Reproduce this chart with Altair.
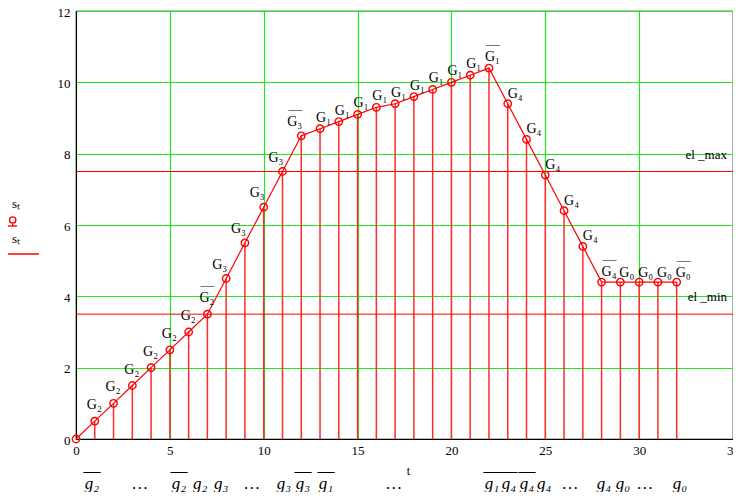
import altair as alt
import pandas as pd

# ---- data ----
t_vals = list(range(33))
s_vals = [0, 0.5, 1.0, 1.5, 2.0, 2.5, 3.0, 3.5,
          4.5, 5.5, 6.5, 7.5, 8.5,
          8.7, 8.9, 9.1, 9.3, 9.4, 9.6, 9.8, 10.0, 10.2, 10.4,
          9.4, 8.4, 7.4, 6.4, 5.4, 4.4,
          4.4, 4.4, 4.4, 4.4]
point_groups = ([""] + ["G2"] * 7 + ["G3"] * 5 + ["G1"] * 10 +
                ["G4"] * 6 + ["G0"] * 4)
point_labels = ([""] + ["G₂"] * 7 + ["G₃"] * 5 + ["G₁"] * 10 +
                ["G₄"] * 6 + ["G₀"] * 4)
overlined_t = [7, 12, 22, 28, 32]

el_values = [7.5, 3.5]
el_names = ["el _max", "el _min"]

x_ticks = [0, 5, 10, 15, 20, 25, 30, 35]
y_ticks = [0, 2, 4, 6, 8, 10, 12]

bottom_tokens = ["g₂", "…", "g₂", "g₂", "g₃", "…", "g₃", "g₃", "g₁", "…",
                 "g₁", "g₄", "g₄", "g₄", "…", "g₄", "g₀", "…", "g₀"]
bottom_t = [0.85, 3.41, 5.49, 6.61, 7.73, 9.38, 11.08, 12.09, 13.32, 16.94,
            22.16, 23.07, 24.03, 24.94, 26.33, 28.13, 29.14, 30.31, 32.18]
bottom_over = [1, 0, 1, 0, 0, 0, 0, 1, 1, 0,
               1, 1, 1, 0, 0, 0, 0, 0, 0]

# ---- build tables ----
df = pd.DataFrame({
    "t": t_vals, "s": s_vals, "grp": point_groups, "lab": point_labels,
    "ol": [1 if t in overlined_t else 0 for t in t_vals],
})
df_el = pd.DataFrame({"s": el_values, "name": el_names})
df_bot = pd.DataFrame({"t": bottom_t, "tok": bottom_tokens, "ol": bottom_over})
dummy = pd.DataFrame({"a": [0]})

W, H = 657, 428
F = "Liberation Serif"
RED = "#ff0000"
GREEN = "#22e622"

X = alt.X("t:Q", title="t",
          scale=alt.Scale(domain=[0, 35], nice=False, zero=False),
          axis=alt.Axis(values=x_ticks, grid=True, gridColor=GREEN, gridWidth=1.2,
                        ticks=False, domainColor="black", labelFont=F, labelFontSize=13,
                        labelColor="black", labelPadding=5, titleFont=F,
                        titleFontSize=12, titleFontWeight="normal", titleColor="black",
                        titlePadding=8, titleX=332, labelFlush=False))
Y = alt.Y("s:Q", title=None,
          scale=alt.Scale(domain=[0, 12], nice=False),
          axis=alt.Axis(values=y_ticks, grid=True, gridColor=GREEN, gridWidth=1.2,
                        ticks=False, domainColor="black", labelFont=F, labelFontSize=13,
                        labelColor="black", labelPadding=6, labelFlush=False,
                        labelOffset=1))

base = alt.Chart(df)

stems = base.mark_rule(color="#ff2a2a", strokeWidth=1.5).encode(
    x=X, y=Y, y2=alt.datum(0))
line = base.mark_line(color=RED, strokeWidth=1.2).encode(x=X, y=Y)
pts = base.mark_point(shape="circle", filled=False, color=RED, size=55,
                      strokeWidth=1.4, opacity=1).encode(x=X, y=Y)

el_rules = alt.Chart(df_el).mark_rule(color=RED, strokeWidth=1).encode(y=Y)
el_text = alt.Chart(df_el).mark_text(align="right", baseline="middle", dy=-17,
                                     font=F, fontSize=13, color="black").encode(
    x=alt.value(W - 6), y=Y, text="name:N")

group_offsets = {"G2": (-8, -12), "G3": (-14, -10), "G1": (-4, -7),
                 "G4": (0, -6), "G0": (-1, -5)}
label_layers = []
for g, (dx, dy) in group_offsets.items():
    label_layers.append(
        base.transform_filter(alt.datum.grp == g).mark_text(
            align="left", baseline="alphabetic", dx=dx, dy=dy, font=F,
            fontSize=14, color="black").encode(x=X, y=Y, text="lab:N"))
    label_layers.append(
        base.transform_filter((alt.datum.grp == g) & (alt.datum.ol == 1)).mark_text(
            align="left", baseline="alphabetic", dx=dx + 1, dy=dy - 12, font=F,
            fontSize=14, color="black", text="—").encode(x=X, y=Y))

bot_text = alt.Chart(df_bot).mark_text(
    align="center", baseline="alphabetic", font=F, fontSize=17, fontStyle="italic",
    color="black").encode(x=X, y=alt.value(H + 50), text="tok:N")
bot_over = alt.Chart(df_bot).transform_filter(alt.datum.ol == 1).mark_text(
    align="center", baseline="alphabetic", font=F, fontSize=17, color="black",
    text="—").encode(x=X, y=alt.value(H + 37))

# left-side legend (Mathcad trace labels)
leg_s1 = alt.Chart(dummy).mark_text(align="left", baseline="alphabetic", font=F,
                                    fontSize=13, color="black", text="sₜ").encode(
    x=alt.value(-64), y=alt.value(197))
leg_s2 = alt.Chart(dummy).mark_text(align="left", baseline="alphabetic", font=F,
                                    fontSize=13, color="black", text="sₜ").encode(
    x=alt.value(-64), y=alt.value(232))
leg_circ = alt.Chart(dummy).mark_point(shape="circle", filled=False, color=RED,
                                       size=40, strokeWidth=1.4, opacity=1).encode(
    x=alt.value(-63.3), y=alt.value(209))
leg_stem = alt.Chart(dummy).mark_rule(color=RED, strokeWidth=1.4).encode(
    x=alt.value(-63.3), y=alt.value(212.5), y2=alt.value(215))
leg_base = alt.Chart(dummy).mark_rule(color=RED, strokeWidth=1.4).encode(
    x=alt.value(-68), x2=alt.value(-59), y=alt.value(215))
leg_line = alt.Chart(dummy).mark_rule(color=RED, strokeWidth=1.5).encode(
    x=alt.value(-68), x2=alt.value(-37), y=alt.value(243))

chart = alt.layer(
    stems, el_rules, line, pts, el_text, *label_layers, bot_text, bot_over,
    leg_s1, leg_s2, leg_circ, leg_stem, leg_base, leg_line
).properties(
    width=W, height=H,
    autosize=alt.AutoSizeParams(type="none"),
    padding={"left": 68, "top": 3, "right": 0, "bottom": 53},
    background="white",
).configure_view(stroke="black", strokeWidth=1.2)

chart.save("out.html", embed_options={"renderer": "svg", "actions": False})
